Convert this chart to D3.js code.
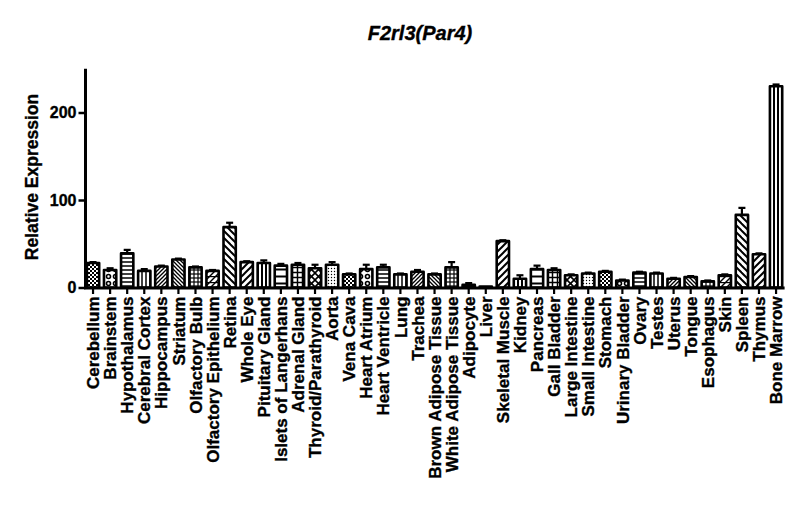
<!DOCTYPE html>
<html>
<head>
<meta charset="utf-8">
<script src="https://cdn.jsdelivr.net/npm/d3@7"></script>
<style>
body { margin: 0; background: #fff; }
svg text { font-family: "Liberation Sans", Arial, sans-serif; font-weight: bold; fill: #000; stroke: #000; stroke-width: 0.35px; }
</style>
</head>
<body>
<svg width="800" height="528"></svg>
<script>
var tissues = ["Cerebellum", "Brainstem", "Hypothalamus", "Cerebral Cortex", "Hippocampus", "Striatum",
  "Olfactory Bulb", "Olfactory Epithelium", "Retina", "Whole Eye", "Pituitary Gland", "Islets of Langerhans",
  "Adrenal Gland", "Thyroid/Parathyroid", "Aorta", "Vena Cava", "Heart Atrium", "Heart Ventricle", "Lung",
  "Trachea", "Brown Adipose Tissue", "White Adipose Tissue", "Adipocyte", "Liver", "Skeletal Muscle", "Kidney",
  "Pancreas", "Gall Bladder", "Large Intestine", "Small Intestine", "Stomach", "Urinary Bladder", "Ovary",
  "Testes", "Uterus", "Tongue", "Esophagus", "Skin", "Spleen", "Thymus", "Bone Marrow"];

var expression = [28, 20, 39, 19, 24, 32, 23, 19, 69, 29, 28, 25, 26, 22, 26, 15, 21, 23, 15, 18,
  15, 23, 3, 1, 53, 10, 21, 20, 14, 16, 18, 8, 17, 16, 10, 12, 7, 14, 83, 38, 230];

var errors = [1, 2, 4, 2, 1, 1, 1, 1, 5, 1, 3, 2, 2, 4, 3, 1, 5, 3, 1, 2,
  1, 6, 2, 0, 1, 4, 4, 2, 1, 1, 1, 1, 1, 1, 1, 1, 1, 1, 8, 1, 2];

var yTicks = [0, 100, 200];

var svg = d3.select("svg"),
    width = +svg.attr("width"),
    height = +svg.attr("height");

var x = d3.scaleBand().domain(tissues).range([84.5, 784.6]).padding(0),
    y = d3.scaleLinear().domain([0, 250]).range([287.5, 68.75]);

// fill patterns, GraphPad style
var defs = svg.append("defs");
function pat(id, size, draw) {
  var p = defs.append("pattern").attr("id", id).attr("patternUnits", "userSpaceOnUse")
    .attr("width", size).attr("height", size);
  p.append("rect").attr("width", size).attr("height", size).attr("fill", "#fff");
  draw(p, size);
}
function lines(p, segs, w) {
  segs.forEach(function(s) {
    p.append("line").attr("x1", s[0]).attr("y1", s[1]).attr("x2", s[2]).attr("y2", s[3])
      .attr("stroke", "#000").attr("stroke-width", w);
  });
}
pat("p0", 4, function(p) {
  p.append("rect").attr("width", 2).attr("height", 2).attr("fill", "#000");
  p.append("rect").attr("x", 2).attr("y", 2).attr("width", 2).attr("height", 2).attr("fill", "#000");
});
pat("p1", 7, function(p) {
  p.append("circle").attr("cx", 3.5).attr("cy", 3.5).attr("r", 2).attr("fill", "none").attr("stroke", "#000").attr("stroke-width", 1.6);
});
pat("p2", 4, function(p, s) { lines(p, [[0, 2, s, 2]], 1.5); });
pat("p3", 4, function(p, s) { lines(p, [[2, 0, 2, s]], 1.5); });
pat("p4", 4, function(p, s) { lines(p, [[0, s, s, 0], [-1, 1, 1, -1], [s - 1, s + 1, s + 1, s - 1]], 1.3); });
pat("p5", 4, function(p, s) { lines(p, [[0, 0, s, s], [-1, s - 1, 1, s + 1], [s - 1, -1, s + 1, 1]], 1.3); });
pat("p6", 4, function(p, s) { lines(p, [[0, 2, s, 2], [2, 0, 2, s]], 1.2); });
pat("p7", 6, function(p, s) { lines(p, [[0, s, s, 0], [-1, 1, 1, -1], [s - 1, s + 1, s + 1, s - 1], [0, 0.5, s, 0.5]], 1.4); });
pat("p8", 7, function(p, s) { lines(p, [[0, 0, s, s], [-2, s - 2, 2, s + 2], [s - 2, -2, s + 2, 2]], 2); });
pat("p9", 7, function(p, s) { lines(p, [[0, s, s, 0], [-2, 2, 2, -2], [s - 2, s + 2, s + 2, s - 2]], 2); });
pat("p10", 4, function(p, s) { lines(p, [[2, 0, 2, s]], 2); });
pat("p11", 7, function(p, s) { lines(p, [[0, 3.5, s, 3.5]], 2); });
pat("p12", 5, function(p, s) { lines(p, [[0, 2.5, s, 2.5], [2.5, 0, 2.5, s]], 1.5); });
pat("p13", 7, function(p, s) { lines(p, [[0, 0, s, s], [0, s, s, 0]], 1.6); });
pat("p14", 3, function(p) {
  p.append("circle").attr("cx", 1.5).attr("cy", 1.5).attr("r", 0.7).attr("fill", "#000");
});

var bw = x.bandwidth() * 0.72;

var g = svg.append("g");

g.selectAll(".bar")
  .data(tissues)
  .enter().append("rect")
  .attr("class", "bar")
  .attr("x", function(d) { return x(d) + (x.bandwidth() - bw) / 2; })
  .attr("y", function(d, i) { return y(expression[i]); })
  .attr("width", bw)
  .attr("height", function(d, i) { return y(0) - y(expression[i]); })
  .attr("fill", function(d, i) { return "url(#p" + (i % 15) + ")"; })
  .attr("stroke", "#000")
  .attr("stroke-width", 2.6)
  .attr("stroke-linejoin", "round");

// upper error bars only
var err = g.selectAll(".err")
  .data(tissues.filter(function(d, i) { return errors[i] > 0; }))
  .enter().append("g").attr("class", "err")
  .attr("stroke", "#000").attr("stroke-width", 2.2);
err.append("line")
  .attr("x1", function(d) { return x(d) + x.bandwidth() / 2; })
  .attr("x2", function(d) { return x(d) + x.bandwidth() / 2; })
  .attr("y1", function(d) { return y(expression[tissues.indexOf(d)]); })
  .attr("y2", function(d) { var i = tissues.indexOf(d); return y(expression[i] + errors[i]); });
err.append("line")
  .attr("x1", function(d) { return x(d) + x.bandwidth() / 2 - 3.5; })
  .attr("x2", function(d) { return x(d) + x.bandwidth() / 2 + 3.5; })
  .attr("y1", function(d) { var i = tissues.indexOf(d); return y(expression[i] + errors[i]); })
  .attr("y2", function(d) { var i = tissues.indexOf(d); return y(expression[i] + errors[i]); });

// axes
var yAxis = svg.append("g")
  .attr("transform", "translate(85.5,0)")
  .call(d3.axisLeft(y).tickValues(yTicks).tickSize(7).tickSizeOuter(0).tickPadding(2));
yAxis.select(".domain").attr("stroke-width", 3).attr("d", "M0," + y(250) + "V" + (y(0) + 1.5));
yAxis.selectAll(".tick line").attr("stroke-width", 2.5);
yAxis.selectAll(".tick text").style("font-size", "16px").style("font-family", "Liberation Sans, Arial, sans-serif").style("font-weight", "bold");

var xAxis = svg.append("g")
  .attr("transform", "translate(0," + (y(0) + 0.5) + ")")
  .call(d3.axisBottom(x).tickSize(6).tickSizeOuter(0));
xAxis.select(".domain").attr("stroke-width", 3).attr("d", "M84," + 0 + "H784.6");
xAxis.selectAll(".tick line").attr("stroke-width", 2.2);
xAxis.selectAll(".tick text")
  .style("font-size", "17px").style("font-family", "Liberation Sans, Arial, sans-serif").style("font-weight", "bold")
  .attr("transform", "rotate(-90)")
  .attr("x", -8.5).attr("y", 0).attr("dy", "0.36em")
  .style("text-anchor", "end");

svg.append("text")
  .attr("x", 420).attr("y", 40)
  .attr("text-anchor", "middle")
  .style("font-size", "20px").style("font-style", "italic")
  .text("F2rl3(Par4)");

svg.append("text")
  .attr("transform", "translate(38,177) rotate(-90)")
  .attr("text-anchor", "middle")
  .style("font-size", "17.5px")
  .text("Relative Expression");
</script>
</body>
</html>
